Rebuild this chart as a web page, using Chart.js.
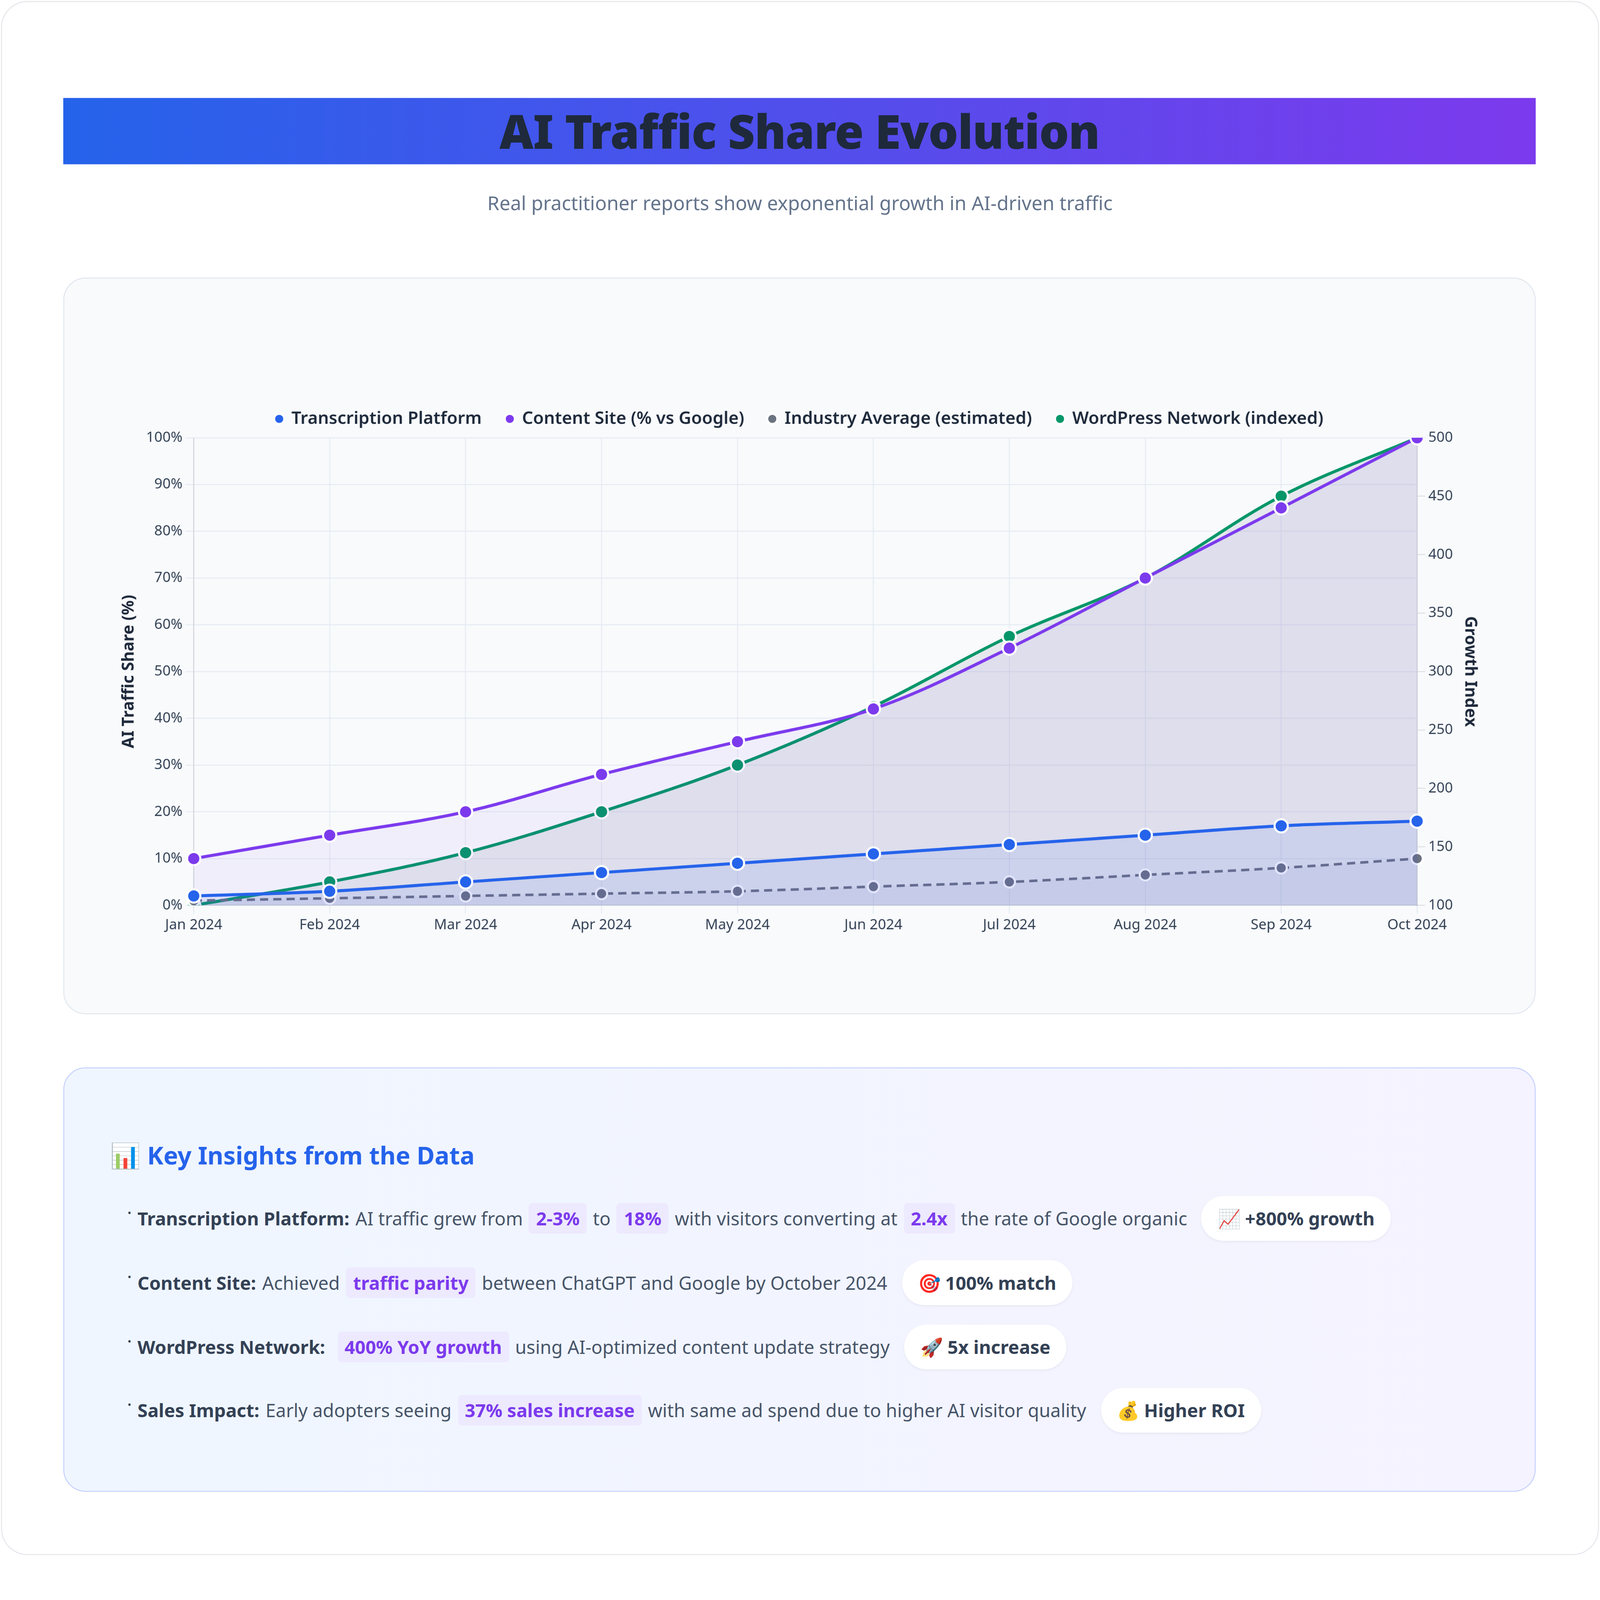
<!DOCTYPE html>
<html><head><meta charset="utf-8">
<script src="https://cdn.jsdelivr.net/npm/chart.js@4"></script>
<style>
html,body{margin:0;padding:0;background:#fff;overflow:hidden;}
#wrap{position:absolute;left:0;top:0;width:1568px;height:1525px;transform-origin:0 0;font-family:"Noto Sans","Open Sans",sans-serif;}
.outer{position:absolute;left:1px;top:1px;width:1564px;height:1521px;border:1px solid #e5e7eb;border-radius:26px;background:#fff;}
.banner{position:absolute;left:62px;top:96px;width:1443px;height:65px;background:linear-gradient(90deg,#2563eb,#7c3aed);}
.banner h1{margin:0;text-align:center;font-size:46px;line-height:65px;font-weight:900;color:#1e293b;letter-spacing:-0.5px;}
.sub{position:absolute;left:0;width:1568px;top:186px;text-align:center;font-size:19px;color:#64748b;}
.card{position:absolute;left:62px;top:272px;width:1441px;height:720px;background:#f8fafc;border:1px solid #e2e8f0;border-radius:22px;}
.cv{position:absolute;left:50px;top:105px;width:1341px;height:540px;}
.ins{position:absolute;left:62px;top:1046px;width:1441px;height:414px;border:1px solid #c7d2fe;border-radius:22px;background:linear-gradient(90deg,#eff6ff,#f5f3ff);}
.ins h2{position:absolute;left:45px;top:68px;margin:0;font-size:24px;color:#2563eb;font-weight:700;}
.row{position:absolute;left:62px;font-size:18px;color:#475569;display:flex;align-items:center;white-space:nowrap;}
.row b{color:#334155;margin-right:6px;}
.dot{font-size:10px;margin-right:6px;position:relative;top:-6px;color:#334155}
.hl{background:#ede9fe;color:#7c3aed;font-weight:700;padding:3px 7px;border-radius:4px;margin:0 6px;}
.badge{background:#fff;border-radius:22px;padding:10px 16px;margin-left:14px;font-weight:700;color:#334155;box-shadow:0 1px 3px rgba(0,0,0,0.06);}
</style></head><body>
<div id="wrap">
<div class="outer"></div>
<div class="banner"><h1>AI Traffic Share Evolution</h1></div>
<div class="sub">Real practitioner reports show exponential growth in AI-driven traffic</div>
<div class="card"><div class="cv"><canvas id="c"></canvas></div></div>
<div class="ins">
<h2>📊 Key Insights from the Data</h2>
<div class="row" style="top:125px"><span class="dot">•</span><b>Transcription Platform:</b> AI traffic grew from <span class="hl">2-3%</span> to <span class="hl">18%</span> with visitors converting at <span class="hl">2.4x</span> the rate of Google organic <span class="badge">📈 +800% growth</span></div>
<div class="row" style="top:188px"><span class="dot">•</span><b>Content Site:</b> Achieved <span class="hl">traffic parity</span> between ChatGPT and Google by October 2024 <span class="badge">🎯 100% match</span></div>
<div class="row" style="top:251px"><span class="dot">•</span><b>WordPress Network:</b><span class="hl">400% YoY growth</span> using AI-optimized content update strategy <span class="badge">🚀 5x increase</span></div>
<div class="row" style="top:313px"><span class="dot">•</span><b>Sales Impact:</b> Early adopters seeing <span class="hl">37% sales increase</span> with same ad spend due to higher AI visitor quality <span class="badge">💰 Higher ROI</span></div>
</div>
</div>
<script>
const months=["Jan 2024","Feb 2024","Mar 2024","Apr 2024","May 2024","Jun 2024","Jul 2024","Aug 2024","Sep 2024","Oct 2024"];
const transcription=[2,3,5,7,9,11,13,15,17,18];
const contentSite=[10,15,20,28,35,42,55,70,85,100];
const industry=[1,1.5,2,2.5,3,4,5,6.5,8,10];
const wordpress=[100,120,145,180,220,270,330,380,450,500];
const s=Math.min(window.innerWidth/1568,window.innerHeight/1525);
document.getElementById('wrap').style.transform='scale('+s+')';
const F='"Noto Sans","Open Sans",sans-serif';
function ds(label,data,color,fill,axis,extra){return Object.assign({label,data,borderColor:color,backgroundColor:fill,pointBackgroundColor:color,pointBorderColor:'#fff',pointBorderWidth:2,pointRadius:6.5,borderWidth:3,tension:0.35,fill:'origin',yAxisID:axis},extra||{});}
new Chart(document.getElementById('c'),{type:'line',
data:{labels:months,datasets:[
ds('Transcription Platform',transcription,'#2563eb','rgba(37,99,235,0.10)','y'),
ds('Content Site (% vs Google)',contentSite,'#7c3aed','rgba(124,58,237,0.06)','y'),
ds('Industry Average (estimated)',industry,'#6b7280','rgba(107,114,128,0.05)','y',{borderDash:[8,5],pointRadius:5.5,borderWidth:2.5}),
ds('WordPress Network (indexed)',wordpress,'#059669','rgba(100,116,139,0.13)','y1')]},
options:{responsive:true,maintainAspectRatio:false,devicePixelRatio:Math.ceil(s*(window.devicePixelRatio||1)),animation:false,
plugins:{legend:{position:'top',labels:{usePointStyle:true,pointStyle:'circle',boxWidth:7,boxHeight:7,padding:24,color:'#1e293b',font:{family:F,size:17,weight:'600'}}},tooltip:{enabled:false}},
scales:{
x:{grid:{color:'rgba(226,232,240,0.8)'},ticks:{color:'#334155',font:{family:F,size:14}}},
y:{position:'left',min:0,max:100,ticks:{stepSize:10,color:'#334155',font:{family:F,size:14},callback:v=>v+'%'},grid:{color:'rgba(226,232,240,0.8)'},title:{display:true,text:'AI Traffic Share (%)',color:'#1e293b',font:{family:F,size:16,weight:'700'}}},
y1:{position:'right',min:100,max:500,ticks:{stepSize:50,color:'#334155',font:{family:F,size:14}},grid:{drawOnChartArea:false},title:{display:true,text:'Growth Index',color:'#1e293b',font:{family:F,size:16,weight:'700'}}}}}});
</script>
</body></html>
